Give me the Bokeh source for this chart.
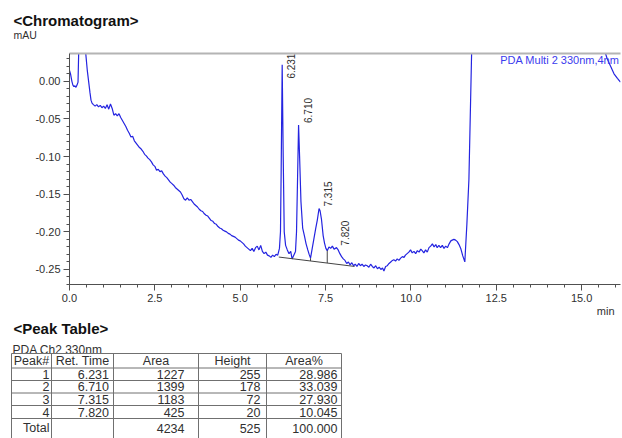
import numpy as np
from bokeh.plotting import figure
from bokeh.layouts import column
from bokeh.models import Range1d, SingleIntervalTicker, PrintfTickFormatter, Label, LinearAxis, FixedTicker
from bokeh.core.properties import value
from bokeh.embed import file_html
from bokeh.resources import INLINE

# ---------------- data ----------------
time_min = [
    0.00, 0.03, 0.07, 0.10, 0.13, 0.16, 0.19, 0.22, 0.25, 0.27, 0.29, 0.45, 0.47, 0.52, 0.56, 0.60, 0.63, 0.66, 0.70,
    0.75, 0.80, 0.85, 0.90, 0.95, 1.00, 1.05, 1.10, 1.15, 1.20, 1.25, 1.30, 1.35, 1.40, 1.45, 1.50, 1.55, 1.60, 1.65,
    1.70, 1.75, 1.80, 1.85, 1.90, 1.95, 2.00, 2.05, 2.10, 2.15, 2.20, 2.25, 2.30, 2.35, 2.40, 2.45, 2.50, 2.55, 2.60,
    2.65, 2.70, 2.75, 2.80, 2.85, 2.90, 2.95, 3.00, 3.05, 3.10, 3.15, 3.20, 3.25, 3.30, 3.35, 3.40, 3.45, 3.50, 3.55,
    3.60, 3.65, 3.70, 3.75, 3.80, 3.85, 3.90, 3.95, 4.00, 4.05, 4.10, 4.15, 4.20, 4.25, 4.30, 4.35, 4.40, 4.45, 4.50,
    4.55, 4.60, 4.65, 4.70, 4.75, 4.80, 4.85, 4.90, 4.95, 5.00, 5.05, 5.10, 5.15, 5.20, 5.25, 5.30, 5.35, 5.40, 5.45,
    5.50, 5.55, 5.60, 5.65, 5.70, 5.75, 5.80, 5.85, 5.90, 5.95, 6.00, 6.05, 6.10, 6.15, 6.18, 6.20, 6.23, 6.26, 6.29,
    6.33, 6.38, 6.43, 6.48, 6.52, 6.57, 6.62, 6.65, 6.68, 6.71, 6.74, 6.78, 6.83, 6.88, 6.93, 6.98, 7.02, 7.06, 7.11,
    7.16, 7.21, 7.26, 7.31, 7.34, 7.38, 7.43, 7.47, 7.51, 7.55, 7.60, 7.65, 7.70, 7.75, 7.82, 7.87, 7.92, 7.97, 8.02,
    8.07, 8.12, 8.17, 8.22, 8.27, 8.32, 8.37, 8.42, 8.47, 8.52, 8.57, 8.62, 8.67, 8.72, 8.77, 8.82, 8.87, 8.92, 8.97,
    9.02, 9.07, 9.12, 9.17, 9.21, 9.26, 9.31, 9.36, 9.41, 9.46, 9.50, 9.55, 9.60, 9.65, 9.70, 9.75, 9.80, 9.84, 9.89,
    9.94, 9.99, 10.04, 10.09, 10.14, 10.19, 10.24, 10.29, 10.33, 10.38, 10.43, 10.48, 10.53, 10.58, 10.63, 10.68,
    10.73, 10.77, 10.82, 10.87, 10.92, 10.97, 11.02, 11.07, 11.12, 11.17, 11.21, 11.26, 11.31, 11.36, 11.41, 11.46,
    11.52, 11.58, 11.64, 11.70, 11.78, 11.85, 15.60, 15.68, 15.75, 15.85, 15.95, 16.05, 16.14,
]
signal_mau = [
    0.0146, 0.010, 0.000, -0.005, -0.007, -0.006, -0.008, -0.005, -0.001, 0.040, 0.200, 0.200, 0.040, 0.015, 0.000,
    -0.015, -0.025, -0.029, -0.031,
    -0.033, -0.031, -0.034, -0.032, -0.035, -0.033, -0.036, -0.031, -0.037, -0.030, -0.036, -0.045, -0.043, -0.046,
    -0.043, -0.048, -0.052, -0.056, -0.060,
    -0.065, -0.069, -0.074, -0.073, -0.079, -0.082, -0.085, -0.088, -0.090, -0.093, -0.097, -0.099, -0.102, -0.104,
    -0.107, -0.111, -0.113, -0.118, -0.117,
    -0.120, -0.119, -0.123, -0.126, -0.128, -0.131, -0.134, -0.136, -0.138, -0.141, -0.143, -0.145, -0.147, -0.151,
    -0.156, -0.158, -0.155, -0.158, -0.157,
    -0.160, -0.163, -0.165, -0.167, -0.170, -0.172, -0.173, -0.176, -0.178, -0.179, -0.182, -0.185, -0.186, -0.189,
    -0.190, -0.193, -0.195, -0.196, -0.198,
    -0.199, -0.200, -0.202, -0.203, -0.205, -0.206, -0.207, -0.209, -0.211, -0.212, -0.214, -0.216, -0.219, -0.221,
    -0.223, -0.225, -0.222, -0.226, -0.221,
    -0.219, -0.224, -0.218, -0.226, -0.229, -0.227, -0.231, -0.232, -0.234, -0.231, -0.233, -0.230, -0.231, -0.222,
    -0.200, -0.120, 0.022, -0.100, -0.200,
    -0.218, -0.224, -0.229, -0.226, -0.236, -0.231, -0.226, -0.200, -0.130, -0.058, -0.100, -0.160, -0.195, -0.205,
    -0.216, -0.224, -0.230, -0.235, -0.222,
    -0.209, -0.196, -0.184, -0.169, -0.172, -0.183, -0.205, -0.215, -0.222, -0.225, -0.220, -0.222, -0.219, -0.223,
    -0.221, -0.224, -0.229, -0.233, -0.236,
    -0.238, -0.242, -0.240, -0.244, -0.241, -0.245, -0.243, -0.246, -0.242, -0.245, -0.243, -0.246, -0.244, -0.245,
    -0.247, -0.243, -0.246, -0.248, -0.245,
    -0.249, -0.247, -0.250, -0.248, -0.252, -0.246, -0.245, -0.242, -0.240, -0.238, -0.237, -0.239, -0.236, -0.238,
    -0.235, -0.233, -0.234, -0.231, -0.229,
    -0.227, -0.224, -0.228, -0.226, -0.229, -0.225, -0.227, -0.223, -0.225, -0.228, -0.224, -0.227, -0.221, -0.219,
    -0.216, -0.220,
    -0.217, -0.221, -0.218, -0.221, -0.218, -0.222, -0.219, -0.221, -0.216, -0.212, -0.211, -0.210, -0.211, -0.213,
    -0.217, -0.222,
    -0.232, -0.240, -0.190, -0.130, 0.040, 0.200, 0.200, 0.040, 0.030, 0.020, 0.010, 0.004, -0.001,
]

peak_numbers = ["1", "2", "3", "4"]
peak_ret_time = [6.231, 6.710, 7.315, 7.820]
peak_apex = [0.022, -0.058, -0.169, -0.221]
peak_area = [1227, 1399, 1183, 425]
peak_height = [255, 178, 72, 20]
peak_area_pct = [28.986, 33.039, 27.930, 10.045]
total_area = 4234
total_height = 525
total_area_pct = 100.000

baseline_t = [6.13, 8.35]
baseline_v = [-0.2335, -0.246]
drop_t = [6.52, 7.06, 7.55]
drop_top = [-0.236, -0.235, -0.225]

table_header = ["Peak#", "Ret. Time", "Area", "Height", "Area%"]

# ---------------- styling constants ----------------
FONT = value("Liberation Sans")
W = 622
X_END = 16.14
Y_START, Y_END = -0.270, 0.037
TRACE = "#2424e0"
TXT = "#303030"
HEAD_H = 40
CHART_H = 266
TOP = HEAD_H + CHART_H


def blank(h):
    f = figure(width=W, height=h, x_range=Range1d(0, W), y_range=Range1d(h, 0),
               x_axis_type=None, y_axis_type=None, output_backend="svg", toolbar_location=None,
               min_border=0, min_border_left=0, min_border_right=0, min_border_top=0, min_border_bottom=0,
               frame_align=False)
    f.outline_line_color = None
    f.xgrid.visible = False
    f.ygrid.visible = False
    return f


# ---------------- header ----------------
head = blank(HEAD_H)
head.text(x=[13], y=[19.5], text=["<Chromatogram>"], text_font=FONT, text_font_size=value("15px"),
          text_font_style="bold", text_color="#111111", text_baseline="alphabetic")
head.text(x=[13], y=[34.5], text=["mAU"], text_font=FONT, text_font_size=value("10.5px"),
          text_color=TXT, text_baseline="alphabetic")

# ---------------- chromatogram ----------------
p = figure(width=W, height=CHART_H, x_range=Range1d(0, X_END), y_range=Range1d(Y_START, Y_END),
           output_backend="svg", toolbar_location=None, frame_align=False,
           min_border_left=69, min_border_right=2, min_border_top=13, min_border_bottom=22)
p.outline_line_color = None
p.xgrid.visible = False
p.ygrid.visible = False

p.xaxis.ticker = SingleIntervalTicker(interval=2.5, num_minor_ticks=5)
p.yaxis.ticker = SingleIntervalTicker(interval=0.05, num_minor_ticks=5)
p.xaxis.formatter = PrintfTickFormatter(format="%.1f")
p.yaxis.formatter = PrintfTickFormatter(format="%.2f")
for ax in (p.xaxis[0], p.yaxis[0]):
    ax.axis_line_color = "#505050"
    ax.major_tick_line_color = "#505050"
    ax.minor_tick_line_color = "#505050"
    ax.major_tick_out = 6
    ax.major_tick_in = 0
    ax.minor_tick_out = 3
    ax.minor_tick_in = 0
    ax.major_label_text_font = "Liberation Sans"
    ax.major_label_text_font_size = "11px"
    ax.major_label_text_color = TXT
    ax.major_label_standoff = 3

top_axis = LinearAxis(ticker=FixedTicker(ticks=[]), axis_line_color="#b4b4b4", axis_line_width=2,
                      major_label_text_font_size="0px", major_tick_out=0, minor_tick_out=0)
p.add_layout(top_axis, "above")

p.line(time_min, signal_mau, line_color=TRACE, line_width=1.2)
p.line(baseline_t, baseline_v, line_color="#444444", line_width=1)
drop_bottom = list(np.interp(drop_t, baseline_t, baseline_v))
p.segment(x0=drop_t, y0=drop_top, x1=drop_t, y1=drop_bottom, line_color="#444444", line_width=1)

label_y = [min(v, Y_END - 0.036) for v in peak_apex]
p.text(x=peak_ret_time, y=label_y, text=[f"{t:.3f}" for t in peak_ret_time], angle=np.pi / 2,
       text_align="left", text_baseline="top", x_offset=5, y_offset=-2,
       text_font=FONT, text_font_size=value("10px"), text_color=TXT)

p.add_layout(Label(x=X_END, y=Y_END, x_offset=-1, y_offset=0, text="PDA Multi 2 330nm,4nm",
                   text_align="right", text_baseline="top", text_font="Liberation Sans",
                   text_font_size="11px", text_color="#3b3bee"))

# ---------------- peak table ----------------
tab = blank(438 - TOP)
tab.text(x=[620], y=[310 - TOP], text=["min"], text_align="right", text_font=FONT,
         text_font_size=value("11px"), text_color=TXT, text_baseline="alphabetic", x_offset=-6)
tab.text(x=[13], y=[328 - TOP], text=["<Peak Table>"], text_font=FONT, text_font_size=value("15px"),
         text_font_style="bold", text_color="#111111", text_baseline="alphabetic")
tab.text(x=[12], y=[349 - TOP], text=["PDA Ch2 330nm"], text_font=FONT, text_font_size=value("12px"),
         text_color=TXT, text_baseline="alphabetic")

col_edges = [11, 51, 113, 198, 266, 341]
row_edges = [353, 367.5, 380, 392.5, 405, 418, 440]
right_ends = [49, 108.5, 184, 260, 337]
re_ = [r - TOP for r in row_edges]

tab.segment(x0=[col_edges[0]] * len(re_), y0=re_, x1=[col_edges[-1]] * len(re_), y1=re_,
            line_color="#707070", line_width=1)
tab.segment(x0=col_edges, y0=[re_[0]] * len(col_edges), x1=col_edges, y1=[re_[-1]] * len(col_edges),
            line_color="#707070", line_width=1)

centers = [(a + b) / 2 for a, b in zip(col_edges[:-1], col_edges[1:])]
mid = [(a + b) / 2 for a, b in zip(re_[:-1], re_[1:])]
mid[-1] = mid[-1] - 1.5
tab.text(x=centers, y=[mid[0]] * 5, text=table_header, text_align="center", text_baseline="middle",
         text_font=FONT, text_font_size=value("12.5px"), text_color=TXT)

rows = [[n, f"{t:.3f}", str(a), str(h), f"{pc:.3f}"]
        for n, t, a, h, pc in zip(peak_numbers, peak_ret_time, peak_area, peak_height, peak_area_pct)]
rows.append(["Total", "", str(total_area), str(total_height), f"{total_area_pct:.3f}"])
xs, ys, ts = [], [], []
for i, r in enumerate(rows):
    for j, c in enumerate(r):
        xs.append(right_ends[j])
        ys.append(mid[i + 1])
        ts.append(c)
tab.text(x=xs, y=ys, text=ts, text_align="right", text_baseline="middle",
         text_font=FONT, text_font_size=value("12.5px"), text_color=TXT)

layout = column(head, p, tab, spacing=0)
open("out.html", "w").write(file_html(layout, INLINE))
